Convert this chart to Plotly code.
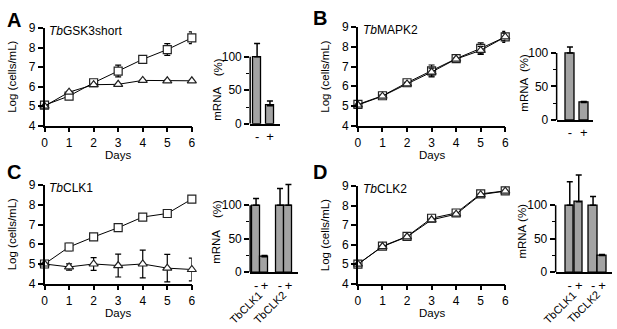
import plotly.graph_objects as go

# ---------------- data ----------------
days = [0, 1, 2, 3, 4, 5, 6]

A_title = "<i>Tb</i>GSK3short"
A_ctrl = [5.05, 5.52, 6.2, 6.8, 7.4, 7.9, 8.5]
A_ctrl_err = [0.08, 0.08, 0.12, 0.3, 0.05, 0.3, 0.3]
A_ind = [5.0, 5.72, 6.1, 6.12, 6.32, 6.3, 6.3]
A_ind_err = [0.03, 0.04, 0.04, 0.04, 0.04, 0.04, 0.04]

B_title = "<i>Tb</i>MAPK2"
B_ctrl = [5.08, 5.52, 6.18, 6.78, 7.4, 7.92, 8.5]
B_ctrl_err = [0.08, 0.1, 0.12, 0.3, 0.05, 0.28, 0.28]
B_ind = [5.05, 5.5, 6.12, 6.72, 7.38, 7.82, 8.5]
B_ind_err = [0.05, 0.06, 0.08, 0.2, 0.05, 0.2, 0.2]

C_title = "<i>Tb</i>CLK1"
C_ctrl = [5.0, 5.86, 6.37, 6.84, 7.38, 7.56, 8.29]
C_ctrl_err = [0.05, 0.18, 0.05, 0.05, 0.05, 0.05, 0.05]
C_ind = [5.0, 4.85, 5.0, 4.92, 5.0, 4.79, 4.72]
C_ind_err = [0.05, 0.16, 0.32, 0.58, 0.7, 0.7, 0.58]

D_title = "<i>Tb</i>CLK2"
D_ctrl = [5.0, 5.92, 6.42, 7.35, 7.62, 8.6, 8.75]
D_ctrl_err = [0.04, 0.05, 0.05, 0.06, 0.06, 0.05, 0.05]
D_ind = [5.0, 5.9, 6.4, 7.27, 7.56, 8.56, 8.74]
D_ind_err = [0.03, 0.04, 0.04, 0.05, 0.05, 0.04, 0.04]

A_bar_labels = ["-", "+"]
A_bar = [100, 27]
A_bar_err = [20, 7]

B_bar_labels = ["-", "+"]
B_bar = [100, 26]
B_bar_err = [9, 1.5]

C_bar_labels = ["-", "+", "-", "+"]
C_bar_groups = ["TbCLK1", "TbCLK2"]
C_bar = [100, 23, 100, 100]
C_bar_err = [10, 2, 25, 31]

D_bar_labels = ["-", "+", "-", "+"]
D_bar_groups = ["TbCLK1", "TbCLK2"]
D_bar = [100, 105, 100, 25]
D_bar_err = [35, 40, 13, 1.5]

# ---------------- layout helpers ----------------
W, H = 617, 329
FONT = "Liberation Sans, Arial, sans-serif"


def xd(a, b):
    return [a / W, b / W]


def yd(top, bottom):
    return [1 - bottom / H, 1 - top / H]


def py(v):
    return 1 - v / H


def px(v):
    return v / W


fig = go.Figure()

axis_common = dict(showline=True, linecolor="black", linewidth=1.5, ticks="outside",
                   ticklen=5, tickwidth=1.5, tickcolor="black", showgrid=False,
                   zeroline=False, tickfont=dict(family=FONT, size=12, color="black"))

line_panels = [
    (A_ctrl, A_ctrl_err, A_ind, A_ind_err, (42, 191), (22, 124), A_title),
    (B_ctrl, B_ctrl_err, B_ind, B_ind_err, (359, 508), (21, 124), B_title),
    (C_ctrl, C_ctrl_err, C_ind, C_ind_err, (42, 191), (186, 289), C_title),
    (D_ctrl, D_ctrl_err, D_ind, D_ind_err, (359, 508), (187, 289), D_title),
]

annotations = []
shapes = []
idx = 1
for ctrl, cerr, ind, ierr, xdp, ydp, title in line_panels:
    xa = "x" if idx == 1 else f"x{idx}"
    ya = "y" if idx == 1 else f"y{idx}"
    fig.add_trace(go.Scatter(
        x=days, y=ctrl, xaxis=xa, yaxis=ya, mode="lines+markers", cliponaxis=False,
        line=dict(color="black", width=1),
        marker=dict(symbol="square", size=8, color="white", line=dict(color="#222", width=1.2)),
        error_y=dict(type="data", array=cerr, color="black", thickness=1.2, width=3),
        showlegend=False))
    fig.add_trace(go.Scatter(
        x=days, y=ind, xaxis=xa, yaxis=ya, mode="lines+markers", cliponaxis=False,
        line=dict(color="black", width=1),
        marker=dict(symbol="triangle-up", size=8, color="white", line=dict(color="#222", width=1.2)),
        error_y=dict(type="data", array=ierr, color="black", thickness=1.2, width=3),
        showlegend=False))
    xkey = "xaxis" if idx == 1 else f"xaxis{idx}"
    ykey = "yaxis" if idx == 1 else f"yaxis{idx}"
    fig.layout[xkey] = dict(axis_common, domain=xd(*xdp), range=[0, 6], tickvals=days,
                            anchor=ya)
    fig.layout[ykey] = dict(axis_common, domain=yd(*ydp), range=[4, 9],
                            tickvals=[4, 5, 6, 7, 8, 9], anchor=xa)
    annotations.append(dict(text=title, x=px(xdp[0] + 3), y=py(ydp[0] + 3), xref="paper",
                            yref="paper", xanchor="left", yanchor="middle", showarrow=False,
                            font=dict(family=FONT, size=12, color="black")))
    annotations.append(dict(text="Log (cells/mL)", x=px(xdp[0] - 33),
                            y=py((ydp[0] + ydp[1]) / 2),
                            xref="paper", yref="paper", textangle=-90, showarrow=False,
                            xanchor="center", yanchor="middle",
                            font=dict(family=FONT, size=11.5, color="black")))
    annotations.append(dict(text="Days", x=px((xdp[0] + xdp[1]) / 2),
                            y=py(ydp[1] + 31), xref="paper", yref="paper",
                            showarrow=False, xanchor="center", yanchor="middle",
                            font=dict(family=FONT, size=11.5, color="black")))
    idx += 1

# bar panels: y axis shown 0..100, plot area extended upward so error bars are not clipped
YMAX_BAR = 150
PX_PER_UNIT = 0.7
bar_panels = [
    (A_bar, A_bar_err, A_bar_labels, None, [0, 1], 0.65, (250, 280), 122,
     [-0.54, 1.77], 217, 101.5, 63.5, 0),
    (B_bar, B_bar_err, B_bar_labels, None, [0, 1], 0.64, (560, 597), 118,
     [-0.96, 1.68], 527, 91.5, 58.5, 0),
    (C_bar, C_bar_err, C_bar_labels, C_bar_groups, [0, 1, 2.85, 3.85], 0.96, (250, 298),
     277, [-0.7, 4.94], 216, 251, 211.5, 6),
    (D_bar, D_bar_err, D_bar_labels, D_bar_groups, [0, 1, 2.6, 3.6], 0.96, (559, 616),
     277, [-1.58, 4.72], 525, 245, 215, 6),
]

for vals, errs, labels, groups, pos, bw, xdp, ybot, xr, tx, my, pcy, gshift in bar_panels:
    xa = f"x{idx}"
    ya = f"y{idx}"
    ytop = ybot - YMAX_BAR * PX_PER_UNIT
    fig.add_trace(go.Bar(
        x=pos, y=vals, width=bw, xaxis=xa, yaxis=ya,
        marker=dict(color="#a3a3a3", line=dict(color="black", width=1.3)),
        error_y=dict(type="data", symmetric=False, array=errs, arrayminus=[0] * len(errs),
                     color="black", thickness=1.5, width=3),
        showlegend=False))
    fig.layout[f"xaxis{idx}"] = dict(axis_common, domain=xd(*xdp), range=xr, tickvals=pos,
                                     ticktext=labels, ticks="", anchor=ya,
                                     tickfont=dict(family=FONT, size=13, color="black"))
    fig.layout[f"yaxis{idx}"] = dict(axis_common, domain=yd(ytop, ybot),
                                     range=[0, YMAX_BAR], showline=False,
                                     tickvals=[0, 50, 100], anchor=xa,
                                     minor=dict(tickvals=[25, 75], ticks="outside", ticklen=3,
                                                tickwidth=1.2, tickcolor="black"))
    shapes.append(dict(type="line", xref=f"{xa} domain", yref=ya, x0=0, x1=0, y0=0,
                       y1=100, line=dict(color="black", width=1.5)))
    annotations.append(dict(text="mRNA", x=px(tx), y=py(my), xref="paper", yref="paper",
                            textangle=-90, showarrow=False, xanchor="center",
                            yanchor="middle", font=dict(family=FONT, size=11.5, color="black")))
    annotations.append(dict(text="(%)", x=px(tx), y=py(pcy), xref="paper", yref="paper",
                            textangle=-90, showarrow=False, xanchor="center",
                            yanchor="middle", font=dict(family=FONT, size=11.5, color="black")))
    if groups:
        for gi, g in enumerate(groups):
            gx = (pos[2 * gi] + pos[2 * gi + 1]) / 2
            annotations.append(dict(text=g, x=gx, xref=xa, y=py(293), yref="paper",
                                    textangle=-45, showarrow=False, xanchor="right",
                                    yanchor="top", xshift=gshift, borderpad=0,
                                    font=dict(family=FONT, size=11, color="black")))
    idx += 1

for letter, lx, ly in [("A", 2, 14), ("B", 312, 11), ("C", 2, 172), ("D", 312, 172)]:
    annotations.append(dict(text=f"<b>{letter}</b>", x=px(lx), y=py(ly), xref="paper",
                            yref="paper", xanchor="left", yanchor="middle", showarrow=False,
                            font=dict(family=FONT, size=20, color="black")))

fig.update_layout(width=W, height=H, margin=dict(l=0, r=0, t=0, b=0),
                  paper_bgcolor="white", plot_bgcolor="white",
                  annotations=annotations, shapes=shapes, bargap=0)

# the page's default 8px body margin would push the figure off the window
fig.write_html("out.html", config={"displayModeBar": False},
               post_script="document.body.style.margin='0px';")
